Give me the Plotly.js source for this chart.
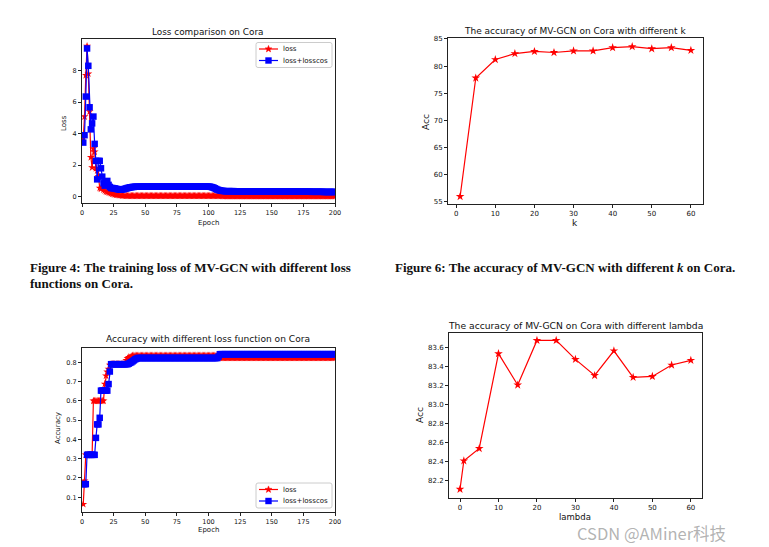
<!DOCTYPE html>
<html>
<head>
<meta charset="utf-8">
<script src="https://cdn.plot.ly/plotly-3.0.1.min.js"></script>
<style>html,body{margin:0;padding:0;background:#fff;}#chart{width:769px;height:547px;}</style>
</head>
<body>
<div id="chart"></div>
<script>
// ---------- data ----------
const lossRed = [
 3.70,5.08,7.70,9.55,7.80,5.40,2.50,1.85,3.05,2.85,1.80,1.65,1.30,0.55,0.50,0.60,0.45,0.38,0.32,0.30,
 0.27,0.24,0.21,0.18,0.16,0.14,0.12,0.11,0.10,0.09,0.08,0.07,0.07,0.06,0.06,0.05,0.05,0.05,0.05,0.05,
 0.05,0.05,0.05,0.05,0.05,0.05,0.05,0.05,0.05,0.05,0.05,0.05,0.05,0.05,0.05,0.05,0.05,0.05,0.05,0.05,
 0.05,0.05,0.05,0.05,0.05,0.05,0.05,0.05,0.05,0.05,0.05,0.05,0.05,0.05,0.05,0.05,0.05,0.05,0.05,0.05,
 0.05,0.05,0.05,0.05,0.05,0.05,0.05,0.05,0.05,0.05,0.05,0.05,0.05,0.05,0.05,0.05,0.05,0.05,0.05,0.05,
 0.05,0.05,0.05,0.05,0.05,0.05,0.05,0.05,0.05,0.05,0.04,0.04,0.04,0.04,0.04,0.04,0.04,0.04,0.04,0.04,
 0.04,0.04,0.04,0.04,0.04,0.04,0.04,0.04,0.04,0.04,0.04,0.04,0.04,0.04,0.04,0.04,0.04,0.04,0.04,0.04,
 0.04,0.04,0.04,0.04,0.04,0.04,0.04,0.04,0.04,0.04,0.04,0.04,0.04,0.04,0.04,0.04,0.04,0.04,0.04,0.04,
 0.04,0.04,0.04,0.04,0.04,0.04,0.04,0.04,0.04,0.04,0.04,0.04,0.04,0.04,0.04,0.04,0.04,0.04,0.04,0.04,
 0.04,0.04,0.04,0.04,0.04,0.04,0.04,0.04,0.04,0.04,0.04,0.04,0.04,0.04,0.04,0.04,0.04,0.04,0.04,0.04
];
const lossBlue = [
 3.43,3.90,6.35,9.40,8.30,5.67,4.27,4.65,5.08,3.35,2.27,1.10,2.27,2.27,1.80,1.27,0.85,0.70,0.95,1.00,
 0.75,0.62,0.55,0.55,0.53,0.52,0.50,0.48,0.46,0.45,0.45,0.46,0.48,0.50,0.52,0.55,0.57,0.59,0.60,0.62,
 0.62,0.63,0.63,0.63,0.63,0.63,0.64,0.64,0.64,0.64,0.64,0.64,0.64,0.64,0.64,0.64,0.64,0.64,0.64,0.64,
 0.64,0.64,0.64,0.64,0.64,0.64,0.64,0.64,0.64,0.64,0.64,0.64,0.64,0.64,0.64,0.64,0.64,0.64,0.64,0.64,
 0.64,0.64,0.64,0.64,0.64,0.64,0.64,0.64,0.64,0.64,0.64,0.64,0.64,0.64,0.64,0.64,0.64,0.64,0.64,0.64,
 0.63,0.62,0.60,0.57,0.53,0.49,0.45,0.42,0.40,0.38,0.37,0.36,0.35,0.35,0.35,0.35,0.35,0.35,0.35,0.35,
 0.34,0.34,0.34,0.34,0.34,0.34,0.34,0.34,0.34,0.34,0.34,0.34,0.34,0.34,0.34,0.34,0.34,0.34,0.34,0.34,
 0.34,0.34,0.34,0.34,0.34,0.34,0.34,0.34,0.34,0.34,0.33,0.33,0.33,0.33,0.33,0.33,0.33,0.33,0.33,0.33,
 0.33,0.33,0.33,0.33,0.33,0.33,0.33,0.33,0.33,0.33,0.32,0.32,0.32,0.32,0.32,0.32,0.32,0.32,0.32,0.32,
 0.31,0.31,0.31,0.31,0.31,0.31,0.31,0.31,0.31,0.31,0.30,0.30,0.30,0.30,0.30,0.30,0.30,0.30,0.30,0.30
];
const accRed = [
 0.064,0.185,0.32,0.32,0.32,0.32,0.32,0.32,0.60,0.60,0.60,0.60,0.60,0.60,0.60,0.60,0.60,0.687,0.73,0.75,
 0.765,0.786,0.79,0.79,0.79,0.79,0.79,0.79,0.79,0.79,0.79,0.79,0.79,0.79,0.81,0.82,0.826,0.826,0.83,0.834,
 0.834,0.834,0.834,0.834,0.834,0.834,0.834,0.834,0.834,0.834,0.834,0.834,0.834,0.834,0.834,0.834,0.834,0.834,0.834,0.834,
 0.834,0.834,0.834,0.834,0.834,0.834,0.834,0.834,0.834,0.834,0.834,0.834,0.834,0.834,0.834,0.834,0.834,0.834,0.834,0.834,
 0.834,0.834,0.834,0.834,0.834,0.834,0.834,0.834,0.834,0.834,0.834,0.834,0.834,0.834,0.834,0.834,0.834,0.834,0.834,0.834,
 0.834,0.834,0.834,0.834,0.834,0.834,0.834,0.834,0.823,0.823,0.823,0.823,0.823,0.823,0.823,0.823,0.823,0.823,0.823,0.823,
 0.823,0.823,0.823,0.823,0.823,0.823,0.823,0.823,0.823,0.823,0.823,0.823,0.823,0.823,0.823,0.823,0.823,0.823,0.823,0.823,
 0.823,0.823,0.823,0.823,0.823,0.823,0.823,0.823,0.823,0.823,0.823,0.823,0.823,0.823,0.823,0.823,0.823,0.823,0.823,0.823,
 0.823,0.823,0.823,0.823,0.823,0.823,0.823,0.823,0.823,0.823,0.823,0.823,0.823,0.823,0.823,0.823,0.823,0.823,0.823,0.823,
 0.823,0.823,0.823,0.823,0.823,0.823,0.823,0.823,0.823,0.823,0.823,0.823,0.823,0.823,0.823,0.823,0.823,0.823,0.823,0.823
];
const accBlue = [
 0.168,0.168,0.168,0.32,0.32,0.32,0.32,0.32,0.32,0.32,0.408,0.478,0.478,0.512,0.653,0.653,0.653,0.653,0.653,0.653,
 0.687,0.752,0.79,0.79,0.79,0.79,0.79,0.79,0.79,0.79,0.79,0.79,0.79,0.79,0.79,0.79,0.793,0.797,0.80,0.805,
 0.81,0.815,0.818,0.822,0.822,0.822,0.822,0.822,0.822,0.822,0.822,0.822,0.822,0.822,0.822,0.822,0.822,0.822,0.822,0.822,
 0.822,0.822,0.822,0.822,0.822,0.822,0.822,0.822,0.822,0.822,0.822,0.822,0.822,0.822,0.822,0.822,0.822,0.822,0.822,0.822,
 0.822,0.822,0.822,0.822,0.822,0.822,0.822,0.822,0.822,0.822,0.822,0.822,0.822,0.822,0.822,0.822,0.822,0.822,0.822,0.822,
 0.822,0.822,0.822,0.822,0.822,0.822,0.822,0.83,0.842,0.842,0.842,0.842,0.842,0.842,0.842,0.842,0.842,0.842,0.842,0.842,
 0.842,0.842,0.842,0.842,0.842,0.842,0.842,0.842,0.842,0.842,0.842,0.842,0.842,0.842,0.842,0.842,0.842,0.842,0.842,0.842,
 0.842,0.842,0.842,0.842,0.842,0.842,0.842,0.842,0.842,0.842,0.842,0.842,0.842,0.842,0.842,0.842,0.842,0.842,0.842,0.842,
 0.842,0.842,0.842,0.842,0.842,0.842,0.842,0.842,0.842,0.842,0.842,0.842,0.842,0.842,0.842,0.842,0.842,0.842,0.842,0.842,
 0.842,0.842,0.842,0.842,0.842,0.842,0.842,0.842,0.842,0.842,0.842,0.842,0.842,0.842,0.842,0.842,0.842,0.842,0.842,0.842
];
const epochs = lossRed.map((_, i) => i + 1);

const kValues = [1, 5, 10, 15, 20, 25, 30, 35, 40, 45, 50, 55, 60];
const kAcc = [55.9, 77.8, 81.2, 82.3, 82.7, 82.5, 82.8, 82.8, 83.4, 83.6, 83.2, 83.4, 82.9];

const lambdaValues = [0, 1, 5, 10, 15, 20, 25, 30, 35, 40, 45, 50, 55, 60];
const lambdaAcc = [82.11, 82.41, 82.54, 83.54, 83.21, 83.68, 83.68, 83.48, 83.31, 83.57, 83.29, 83.30, 83.42, 83.47];

const seriesNames = ['loss', 'loss+losscos'];
const epochTicks = [0, 25, 50, 75, 100, 125, 150, 175, 200];
const lossTicks = [0, 2, 4, 6, 8];
const accTicks = [0.1, 0.2, 0.3, 0.4, 0.5, 0.6, 0.7, 0.8];
const kTicks = [0, 10, 20, 30, 40, 50, 60];
const kAccTicks = [55, 60, 65, 70, 75, 80, 85];
const lambdaTicks = [0, 10, 20, 30, 40, 50, 60];
const lambdaAccTicks = [82.2, 82.4, 82.6, 82.8, 83.0, 83.2, 83.4, 83.6];

// ---------- layout helpers ----------
const W = 769, H = 547;
const dx = (a, b) => [a / W, b / W];
const dy = (t, b) => [1 - b / H, 1 - t / H];
const PX = px => px / W, PY = py => 1 - py / H;
const FONT = 'DejaVu Sans, sans-serif';
const RED = '#ff0000', BLUE = '#0000ff';

function axis(domain, range, tickvals, anchor, ticktext, fs) {
  const a = {
    domain: domain, range: range, anchor: anchor,
    tickmode: 'array', tickvals: tickvals,
    showgrid: false, zeroline: false,
    showline: true, mirror: true, linecolor: '#222', linewidth: 1,
    ticks: 'outside', ticklen: 3, tickwidth: 1, tickcolor: '#222',
    tickfont: {family: FONT, size: fs || 6.5, color: '#111'}
  };
  if (ticktext) a.ticktext = ticktext;
  return a;
}
function ann(text, px, py, size, opts) {
  return Object.assign({
    text: text, xref: 'paper', yref: 'paper', x: PX(px), y: PY(py),
    xanchor: 'center', yanchor: 'middle', showarrow: false,
    font: {family: FONT, size: size, color: '#111'}
  }, opts || {});
}

// legend drawn as decoration (box, sample line, sample glyph, label text)
function starPath(cx, cy, ro, ri) {
  let d = '';
  for (let i = 0; i < 10; i++) {
    const r = i % 2 === 0 ? ro : ri;
    const a = -Math.PI / 2 + i * Math.PI / 5;
    d += (i === 0 ? 'M' : 'L') + PX(cx + r * Math.cos(a)) + ',' + PY(cy + r * Math.sin(a));
  }
  return d + 'Z';
}
function roundRect(x0, y0, x1, y1, r) {
  return 'M' + PX(x0 + r) + ',' + PY(y0) + ' L' + PX(x1 - r) + ',' + PY(y0) +
    ' Q' + PX(x1) + ',' + PY(y0) + ' ' + PX(x1) + ',' + PY(y0 + r) +
    ' L' + PX(x1) + ',' + PY(y1 - r) +
    ' Q' + PX(x1) + ',' + PY(y1) + ' ' + PX(x1 - r) + ',' + PY(y1) +
    ' L' + PX(x0 + r) + ',' + PY(y1) +
    ' Q' + PX(x0) + ',' + PY(y1) + ' ' + PX(x0) + ',' + PY(y1 - r) +
    ' L' + PX(x0) + ',' + PY(y0 + r) +
    ' Q' + PX(x0) + ',' + PY(y0) + ' ' + PX(x0 + r) + ',' + PY(y0) + ' Z';
}
function legendParts(x0, y0) {
  const x1 = x0 + 76, y1 = y0 + 25;
  const rows = [y0 + 6.5, y0 + 18];
  const shapes = [
    {type: 'path', xref: 'paper', yref: 'paper', path: roundRect(x0, y0, x1, y1, 2),
     fillcolor: 'rgba(255,255,255,0.8)', line: {color: '#cccccc', width: 1}},
    {type: 'line', xref: 'paper', yref: 'paper', x0: PX(x0 + 3), x1: PX(x0 + 22), y0: PY(rows[0]), y1: PY(rows[0]),
     line: {color: RED, width: 1.2}},
    {type: 'path', xref: 'paper', yref: 'paper', path: starPath(x0 + 12.5, rows[0], 3.6, 1.5),
     fillcolor: RED, line: {color: RED, width: 0.5}},
    {type: 'line', xref: 'paper', yref: 'paper', x0: PX(x0 + 3), x1: PX(x0 + 22), y0: PY(rows[1]), y1: PY(rows[1]),
     line: {color: BLUE, width: 1.2}},
    {type: 'rect', xref: 'paper', yref: 'paper', x0: PX(x0 + 9.3), x1: PX(x0 + 15.7), y0: PY(rows[1] + 3.2), y1: PY(rows[1] - 3.2),
     fillcolor: BLUE, line: {color: BLUE, width: 0}}
  ];
  const anns = [
    ann(seriesNames[0], x0 + 25, rows[0], 7, {xanchor: 'left'}),
    ann(seriesNames[1], x0 + 25, rows[1], 7, {xanchor: 'left'})
  ];
  return {shapes, anns};
}
const leg1 = legendParts(256, 42.5);
const leg2 = legendParts(256, 483);

const traces = [
  {x: epochs, y: lossRed, xaxis: 'x', yaxis: 'y', name: seriesNames[0], mode: 'lines+markers',
   line: {color: RED, width: 1.2}, marker: {symbol: 'star', size: 6, color: RED}, showlegend: false},
  {x: epochs, y: lossBlue, xaxis: 'x', yaxis: 'y', name: seriesNames[1], mode: 'lines+markers',
   line: {color: BLUE, width: 1.2}, marker: {symbol: 'square', size: 6.5, color: BLUE}, showlegend: false},
  {x: kValues, y: kAcc, xaxis: 'x2', yaxis: 'y2', mode: 'lines+markers', showlegend: false,
   line: {color: RED, width: 1.2}, marker: {symbol: 'star', size: 6.5, color: RED}},
  {x: epochs, y: accRed, xaxis: 'x3', yaxis: 'y3', name: seriesNames[0], mode: 'lines+markers',
   line: {color: RED, width: 1.2}, marker: {symbol: 'star', size: 6, color: RED}, showlegend: false},
  {x: epochs, y: accBlue, xaxis: 'x3', yaxis: 'y3', name: seriesNames[1], mode: 'lines+markers',
   line: {color: BLUE, width: 1.2}, marker: {symbol: 'square', size: 6.5, color: BLUE}, showlegend: false},
  {x: lambdaValues, y: lambdaAcc, xaxis: 'x4', yaxis: 'y4', mode: 'lines+markers', showlegend: false,
   line: {color: RED, width: 1.2}, marker: {symbol: 'star', size: 6.5, color: RED}}
];

const capFont = {family: 'Liberation Serif, serif', size: 13, color: '#111'};

const layout = {
  width: W, height: H, margin: {l: 0, r: 0, t: 0, b: 0},
  paper_bgcolor: '#ffffff', plot_bgcolor: '#ffffff', showlegend: false,
  xaxis: axis(dx(82, 335), [0, 200], epochTicks, 'y'),
  yaxis: axis(dy(39, 203), [-0.4, 10.0], lossTicks, 'x'),
  xaxis2: axis(dx(448, 703), [-2.1, 63.1], kTicks, 'y2', null, 7),
  yaxis2: axis(dy(38, 204), [54.52, 85.18], kAccTicks, 'x2', null, 7),
  xaxis3: axis(dx(82, 335), [0, 200], epochTicks, 'y3'),
  yaxis3: axis(dy(348, 512), [0.0236, 0.874], accTicks, 'x3', accTicks.map(v => v.toFixed(1))),
  xaxis4: axis(dx(449, 702), [-2.86, 62.9], lambdaTicks, 'y4', null, 7),
  yaxis4: axis(dy(333, 498), [82.0175, 83.758], lambdaAccTicks, 'x4', lambdaAccTicks.map(v => v.toFixed(1)), 7),
  shapes: leg1.shapes.concat(leg2.shapes),
  annotations: [
    ann('Loss comparison on Cora', 208, 32, 8.9),
    ann('Epoch', 208, 223, 7),
    ann('Loss', 64, 123, 7, {textangle: -90}),
    ann('The accuracy of MV-GCN on Cora with different k', 575, 31, 9),
    ann('k', 575, 223, 9),
    ann('Acc', 426, 122, 9, {textangle: -90}),
    ann('Accuracy with different loss function on Cora', 208, 339, 9.1),
    ann('Epoch', 208, 530, 7),
    ann('Accuracy', 58, 428, 7, {textangle: -90}),
    ann('The accuracy of MV-GCN on Cora with different lambda', 575, 325, 9.2),
    ann('lambda', 575, 517, 8.5, {borderpad: 0}),
    ann('Acc', 420, 415, 9, {textangle: -90}),
    ann('<b>Figure 4: The training loss of MV-GCN with different loss</b>', 28, 268, 13,
        {xanchor: 'left', font: capFont}),
    ann('<b>functions on Cora.</b>', 28, 284, 13, {xanchor: 'left', font: capFont}),
    ann('<b>Figure 6: The accuracy of MV-GCN with different <i>k</i> on Cora.</b>', 393, 268, 13,
        {xanchor: 'left', font: capFont}),
    ann('CSDN @AMiner科技', 576, 546, 16.5,
        {xanchor: 'left', yanchor: 'bottom', borderpad: 0,
         font: {family: 'Noto Sans CJK SC, sans-serif', size: 16.5, color: 'rgba(165,165,165,0.85)'}})
  ].concat(leg1.anns, leg2.anns)
};

Plotly.newPlot('chart', traces, layout, {staticPlot: true, displayModeBar: false});
</script>
</body>
</html>
